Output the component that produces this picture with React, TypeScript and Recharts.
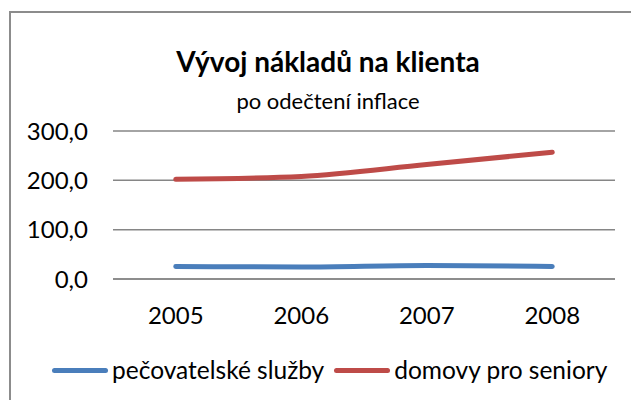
import React from 'react';
import { LineChart, Line, XAxis, YAxis, CartesianGrid } from 'recharts';

const years = ['2005', '2006', '2007', '2008'];
const pecovatelske = [25.5, 24.5, 27.5, 25.5];
const domovy = [202, 208, 232, 257];
const yTicks = [0, 100, 200, 300];

const series = [
  { key: 'pecovatelske', name: 'pečovatelské služby', color: '#4A7EBB', values: pecovatelske },
  { key: 'domovy', name: 'domovy pro seniory', color: '#BE4B48', values: domovy },
];

const data = years.map((year, i) => ({
  year,
  pecovatelske: pecovatelske[i],
  domovy: domovy[i],
}));

const font = 'Lato, "Open Sans", sans-serif';
const fmt = (v: number) => v.toFixed(1).replace('.', ',');

const App: React.FC = () => {
  return (
    <div style={{ position: 'absolute', left: 0, top: 0, width: 631, height: 400, overflow: 'hidden', background: '#fff', fontFamily: font }}>
      {/* chart frame, runs past the right and bottom edges */}
      <div style={{ position: 'absolute', left: 9, top: 11, width: 640, height: 400, border: '2px solid #8c8c8c', boxSizing: 'border-box' }} />

      <div style={{ position: 'absolute', left: 10, width: 636, top: 44, textAlign: 'center', fontSize: 28, fontWeight: 700, color: '#000', lineHeight: '34px' }}>
        Vývoj nákladů na klienta
      </div>
      <div style={{ position: 'absolute', left: 10, width: 636, top: 87, textAlign: 'center', fontSize: 22, color: '#000', lineHeight: '28px' }}>
        po odečtení inflace
      </div>

      <div style={{ position: 'absolute', left: 0, top: 0 }}>
        <LineChart width={631} height={400} data={data} margin={{ top: 131, right: 16, bottom: 0, left: 0 }}>
          <CartesianGrid horizontal vertical={false} stroke="#868686" strokeWidth={1.5} />
          <XAxis
            dataKey="year"
            padding={{ left: 62.75, right: 62.75 }}
            axisLine={{ stroke: '#868686', strokeWidth: 1.5 }}
            tickLine={false}
            tickMargin={22}
            tick={{ fontSize: 24, fill: '#000', fontFamily: font }}
            height={121}
          />
          <YAxis
            width={113}
            domain={[0, 300]}
            ticks={yTicks}
            tickFormatter={fmt}
            axisLine={false}
            tickLine={false}
            tickMargin={19}
            tick={{ fontSize: 24, fill: '#000', fontFamily: font }}
          />
          {series.map((s) => (
            <Line
              key={s.key}
              type="monotone"
              dataKey={s.key}
              name={s.name}
              stroke={s.color}
              strokeWidth={5}
              strokeLinecap="round"
              dot={false}
              activeDot={false}
              isAnimationActive={false}
            />
          ))}
        </LineChart>
      </div>

      <div style={{ position: 'absolute', left: 52, top: 354, display: 'flex', alignItems: 'center', fontSize: 24.5, color: '#000', lineHeight: '32px' }}>
        {series.map((s, i) => (
          <div key={s.key} style={{ display: 'flex', alignItems: 'center', marginLeft: i === 0 ? 0 : 10 }}>
            <span style={{ width: 56, height: 5, borderRadius: 3, background: s.color, marginRight: 4 }} />
            <span>{s.name}</span>
          </div>
        ))}
      </div>
    </div>
  );
};

export default App;
